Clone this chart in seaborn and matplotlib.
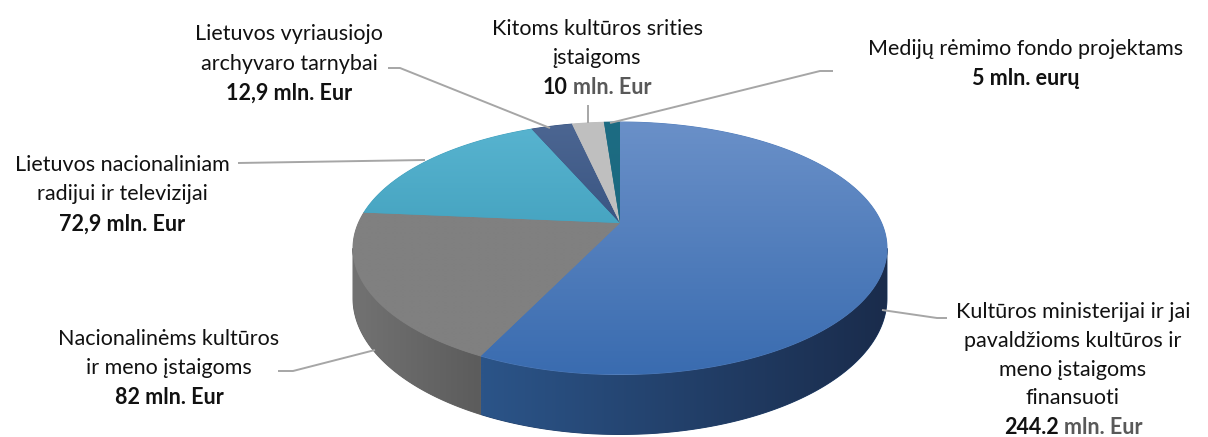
import numpy as np
import matplotlib
matplotlib.use("Agg")
import matplotlib.pyplot as plt
import seaborn as sns
from matplotlib.patches import Polygon

# === Data ===
categories = [
    "Kultūros ministerijai ir jai pavaldžioms kultūros ir meno įstaigoms finansuoti",
    "Nacionalinėms kultūros ir meno įstaigoms",
    "Lietuvos nacionaliniam radijui ir televizijai",
    "Lietuvos vyriausiojo archyvaro tarnybai",
    "Kitoms kultūros srities įstaigoms",
    "Medijų rėmimo fondo projektams",
]
values = [244.2, 82, 72.9, 12.9, 10, 5]
name_lines = [
    ["Kultūros ministerijai ir jai", "pavaldžioms kultūros ir", "meno įstaigoms", "finansuoti"],
    ["Nacionalinėms kultūros", "ir meno įstaigoms"],
    ["Lietuvos nacionaliniam", "radijui ir televizijai"],
    ["Lietuvos vyriausiojo", "archyvaro tarnybai"],
    ["Kitoms kultūros srities", "įstaigoms"],
    ["Medijų rėmimo fondo projektams"],
]
amount_num = ["244.2", "82", "72,9", "12,9", "10", "5"]
amount_unit = ["mln. Eur", "mln. Eur", "mln. Eur", "mln. Eur", "mln. Eur", "mln. eurų"]
unit_gray = [True, False, False, False, True, False]

# === Style ===
top_colors = [("#6A90C8", "#3A6CB0"), ("#808080", "#808080"), ("#58B4D0", "#2E8EAC"),
              ("#4C6692", "#1F3D6C"), ("#C0C0C0", "#BEBEBE"), ("#1D6C83", "#176479")]
wall_colors = [("#2B5488", "#1A2C4C"), ("#727272", "#5C5C5C"), ("#2E7E98", "#2E7E98"),
               ("#1F3558", "#1F3558"), ("#9A9A9A", "#9A9A9A"), ("#14505F", "#14505F")]

# label layout: centre x, y of first line, line step, leader line path
label_x = [1073, 169, 122, 289, 597, 1026]
label_y0 = [310, 337, 163, 32, 27, 47]
label_step = [28.8, 29.5, 29.5, 29.5, 29.5, 29.5]
leaders = [
    ([947, 937, 882], [318, 318, 310]),
    ([278, 293, 375], [371, 371, 350]),
    ([238, 425], [163, 160]),
    ([388, 400, 550], [68, 68, 128]),
    ([588, 588], [105, 123]),
    ([833, 820, 610], [71, 71, 123]),
]

CX, CY, A, B, K, H = 620.0, 223.0, 261.6, 121.2, 0.2, 48.0

sns.set_theme(style="white")
plt.rcParams['font.family'] = ['Lato', 'DejaVu Sans']

fig = plt.figure(figsize=(12.08, 4.37), dpi=100)
ax = fig.add_axes([0, 0, 1, 1])
ax.set_xlim(0, 1208)
ax.set_ylim(437, 0)
ax.axis('off')


def proj(theta, drop=0.0):
    t = np.radians(theta)
    s = 1.0 / (1.0 + K * np.cos(t))
    return CX + A * np.sin(t) * s, CY - B * np.cos(t) * s + drop * s


def grad_fill(xy, c_a, c_b, vertical, extent, z):
    base = sns.blend_palette([c_a, c_b], n_colors=3)[1]
    poly = Polygon(xy, closed=True, facecolor=base, edgecolor=base, lw=0.7, zorder=z)
    ax.add_patch(poly)
    cols = np.array(sns.blend_palette([c_a, c_b], n_colors=64))
    img = cols[:, None, :] if vertical else cols[None, :, :]
    im = ax.imshow(img, extent=extent, origin='upper', aspect='auto',
                   interpolation='bilinear', zorder=z + 0.1)
    im.set_clip_path(poly)


angles = np.concatenate([[0], np.cumsum(values)]) / sum(values) * 360
vis_lo = 180 - np.degrees(np.arccos(K))
vis_hi = 180 + np.degrees(np.arccos(K))

# walls
for i in range(len(values)):
    a0, a1 = max(angles[i], vis_lo), min(angles[i + 1], vis_hi)
    if a1 <= a0:
        continue
    th = np.linspace(a0, a1, 120)
    xt, yt = proj(th)
    xb, yb = proj(th[::-1], H)
    xy = np.column_stack([np.concatenate([xt, xb]), np.concatenate([yt, yb])])
    ext = (xy[:, 0].min(), xy[:, 0].max(), xy[:, 1].max(), xy[:, 1].min())
    grad_fill(xy, wall_colors[i][0], wall_colors[i][1], False, ext, 1)

# top faces
top_ext = (CX - 270, CX + 270, CY + B / (1 - K), CY - B / (1 + K))
for i in range(len(values)):
    th = np.linspace(angles[i], angles[i + 1], max(4, int((angles[i + 1] - angles[i]) * 2)))
    xa, ya = proj(th)
    xy = np.column_stack([np.concatenate([[CX], xa]), np.concatenate([[CY], ya])])
    grad_fill(xy, top_colors[i][0], top_colors[i][1], True, top_ext, 2)

# leader lines
for xs, ys in leaders:
    ax.plot(xs, ys, color="#A6A6A6", lw=1.4, zorder=3, solid_capstyle='butt')

# labels
FS = 15.5
renderer = fig.canvas.get_renderer()


def text_width(s, weight):
    t = ax.text(0, 0, s, fontsize=FS, fontweight=weight)
    w = t.get_window_extent(renderer).width
    t.remove()
    return w


for i in range(len(values)):
    x, y = label_x[i], label_y0[i]
    for line in name_lines[i]:
        ax.text(x, y, line, fontsize=FS, ha='center', va='center_baseline', color="#111111", zorder=4)
        y += label_step[i]
    if unit_gray[i]:
        full = amount_num[i] + " " + amount_unit[i]
        w = text_width(full, 'bold')
        ax.text(x - w / 2, y, amount_num[i], fontsize=FS, fontweight='bold', ha='left',
                va='center_baseline', color="#111111", zorder=4)
        ax.text(x + w / 2, y, amount_unit[i], fontsize=FS, fontweight='bold', ha='right',
                va='center_baseline', color="#595959", zorder=4)
    else:
        ax.text(x, y, amount_num[i] + " " + amount_unit[i], fontsize=FS, fontweight='bold',
                ha='center', va='center_baseline', color="#111111", zorder=4)

ax.set_xlim(0, 1208)
ax.set_ylim(437, 0)
fig.savefig("out.png", dpi=100, facecolor="white")
